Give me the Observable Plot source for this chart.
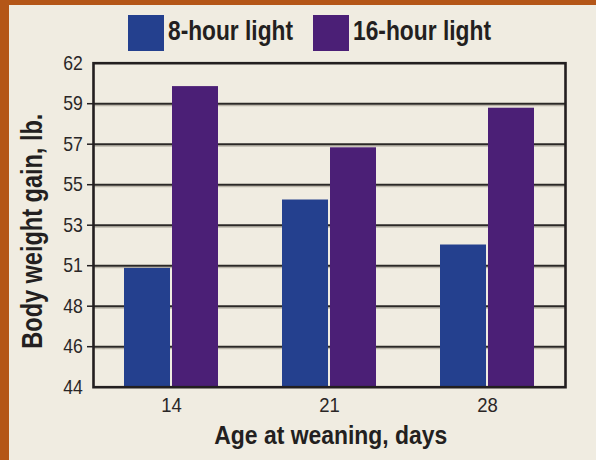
<!DOCTYPE html>
<html>
<head>
<meta charset="utf-8">
<script src="https://cdn.jsdelivr.net/npm/d3@7"></script>
<script src="https://cdn.jsdelivr.net/npm/@observablehq/plot@0.6"></script>
<style>
  html, body { margin: 0; padding: 0; }
  body {
    width: 587px; height: 455px; overflow: hidden;
    background: #f0ece1;
    border-left: 9px solid #b45617;
    border-top: 5px solid #b45617;
    position: relative;
    font-family: "Liberation Sans", Arial, sans-serif;
  }
  #legend { position: absolute; top: 0; left: 0; width: 587px; height: 51px; }
  .sw { position: absolute; top: 10px; width: 36px; height: 36px; }
  .lab { position: absolute; top: 12px; font-size: 28px; line-height: 28px; font-weight: bold; color: #231f20;
         white-space: nowrap; transform-origin: 0 0; }
  .layer { position: absolute; top: 51px; left: 0; }
</style>
</head>
<body>
<div id="legend"></div>
<div id="gridLayer" class="layer"></div>
<div id="barLayer" class="layer"></div>
<div id="topLayer" class="layer"></div>
<script>
const ages = [14, 21, 28];
const series = ["8-hour light", "16-hour light"];
const colors = ["#24408e", "#4b1f76"];
const gain8 = [50.6, 54.4, 51.9];
const gain16 = [60.7, 57.3, 59.5];
const yTickValues = [44, 46.25, 48.5, 50.75, 53, 55.25, 57.5, 59.75, 62];
const yTickLabels = ["44", "46", "48", "51", "53", "55", "57", "59", "62"];
const xTitle = "Age at weaning, days";
const yTitle = "Body weight gain, lb.";

const rows = [];
ages.forEach((a, i) => {
  rows.push({age: a, series: series[0], gain: gain8[i]});
  rows.push({age: a, series: series[1], gain: gain16[i]});
});

// legend (HTML, above the chart)
const legendSwatchLeft = [119, 304];
const legendTextWidth = [125, 138];
const legendDiv = d3.select("#legend");
series.forEach((s, i) => {
  legendDiv.append("div").attr("class", "sw").style("left", legendSwatchLeft[i] + "px").style("background", colors[i]);
  const lab = legendDiv.append("div").attr("class", "lab").style("left", (legendSwatchLeft[i] + 40) + "px").text(s);
  const w = lab.node().getBoundingClientRect().width;
  lab.style("transform", `scaleX(${legendTextWidth[i] / w})`);
});

const yMin = yTickValues[0], yMax = yTickValues[yTickValues.length - 1];
const inner = yTickValues.slice(1, -1);
const dims = {width: 587, height: 409, marginLeft: 84, marginRight: 31, marginTop: 6.7, marginBottom: 78.3};
const baseStyle = {background: "transparent", fontFamily: '"Liberation Sans", Arial, sans-serif', color: "#231f20", overflow: "visible"};
const yScale = {domain: [yMin, yMax], axis: null};

// bottom layer: gridlines
const gridPlot = Plot.plot({
  ...dims, style: baseStyle, y: yScale,
  marks: [
    Plot.ruleY(inner, {stroke: "#bdb7ab", strokeWidth: 1.3, dy: 1.8}),
    Plot.ruleY(inner, {stroke: "#2b2826", strokeWidth: 2})
  ]
});

// middle layer: bars grouped by age, x tick labels
const barPlot = Plot.plot({
  ...dims, style: baseStyle,
  fx: {domain: ages, paddingInner: 0.405, paddingOuter: 0.196, label: null},
  x: {domain: series, paddingInner: 0.042, paddingOuter: 0, axis: null},
  y: yScale,
  color: {domain: series, range: colors},
  marks: [
    Plot.barY(rows, {fx: "age", x: "series", y1: () => yMin, y2: "gain", fill: "series"}),
    Plot.axisFx({anchor: "bottom", tickSize: 0, tickPadding: 10, fontSize: 21, fill: "#2a2626", label: null})
  ]
});

// top layer: frame, y axis, titles
const topPlot = Plot.plot({
  ...dims, style: baseStyle, y: yScale,
  marks: [
    Plot.frame({stroke: "#231f20", strokeWidth: 2.6}),
    Plot.axisY(inner, {tickSize: 6, tickFormat: () => "", stroke: "#231f20", strokeWidth: 1.5, label: null}),
    Plot.axisY(yTickValues, {tickSize: 0, tickPadding: 10.7, tickFormat: d => yTickLabels[yTickValues.indexOf(d)], fontSize: 20, fill: "#2a2626", label: null}),
    Plot.text([yTitle], {frameAnchor: "left", textAnchor: "middle", lineAnchor: "middle", dx: -61, dy: 6, rotate: -90, fontSize: 29, fontWeight: "bold", fill: "#231f20", text: d => d}),
    Plot.text([xTitle], {frameAnchor: "bottom", textAnchor: "middle", lineAnchor: "middle", dx: 1.3, dy: 48.5, fontSize: 25.5, fontWeight: "bold", fill: "#231f20", text: d => d})
  ]
});

document.getElementById("gridLayer").appendChild(gridPlot);
document.getElementById("barLayer").appendChild(barPlot);
document.getElementById("topLayer").appendChild(topPlot);

// condensed look for tick labels
d3.selectAll("svg g[aria-label$='tick label'] text").each(function() {
  const t = this.getAttribute("transform") || "";
  this.setAttribute("transform", t + " scale(0.88,1)");
});
// fit titles to the reference lengths
d3.selectAll("svg g[aria-label='text'] text").each(function() {
  const s = this.textContent;
  const L = s === xTitle ? 233 : 235;
  this.setAttribute("textLength", L);
  this.setAttribute("lengthAdjust", "spacingAndGlyphs");
});
</script>
</body>
</html>
